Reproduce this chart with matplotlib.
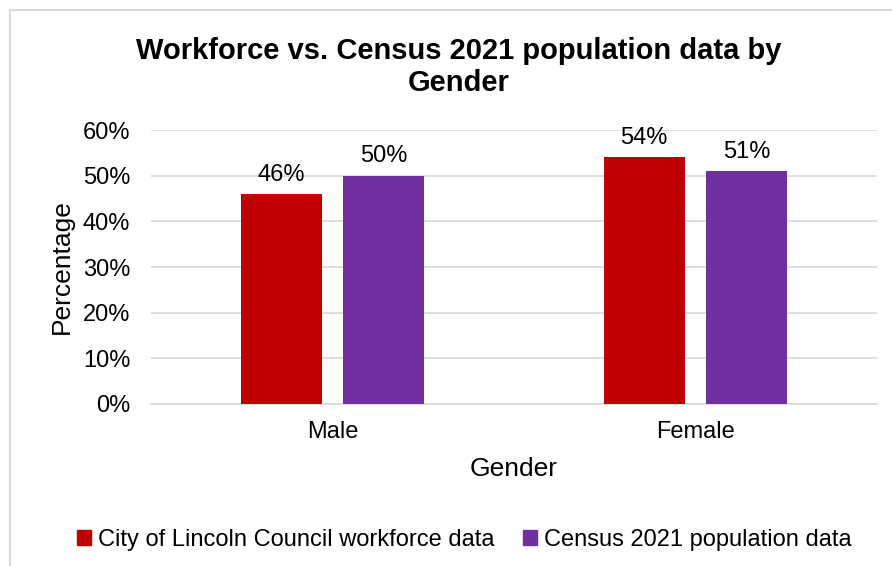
import matplotlib
matplotlib.use("Agg")
import matplotlib.pyplot as plt
from matplotlib.patches import Rectangle, Patch
import numpy as np

categories = ["Male", "Female"]
series_names = ["City of Lincoln Council workforce data", "Census 2021 population data"]
workforce = [0.46, 0.54]
census = [0.50, 0.51]
colors = ["#C00000", "#7030A0"]
yticks = [0, 0.1, 0.2, 0.3, 0.4, 0.5, 0.6]
ytick_labels = ["0%", "10%", "20%", "30%", "40%", "50%", "60%"]

plt.rcParams['font.family'] = ['Liberation Sans', 'DejaVu Sans']

W, H = 892, 566
fig = plt.figure(figsize=(W / 100, H / 100), dpi=100)

# border
fig.patches.append(Rectangle((10 / W, -0.05), 1.2, (H - 10) / H + 0.05, transform=fig.transFigure,
                             fill=False, edgecolor="#d9d9d9", linewidth=1.5))

ax = fig.add_axes([151 / W, (H - 404) / H, 726 / W, 274 / H])
x = np.arange(len(categories))
bw = 0.223
off = bw / 2 + 0.03
b1 = ax.bar(x - off, workforce, bw, color=colors[0], label=series_names[0], zorder=3)
b2 = ax.bar(x + off, census, bw, color=colors[1], label=series_names[1], zorder=3)

for bars, vals in ((b1, workforce), (b2, census)):
    for r, v in zip(bars, vals):
        ax.annotate(f"{round(v * 100)}%", (r.get_x() + r.get_width() / 2, v),
                    xytext=(0, 6), textcoords="offset points", ha="center", va="bottom",
                    fontsize=17, color="black")

ax.set_xlim(-0.5, 1.5)
ax.set_ylim(0, 0.6)
ax.set_yticks(yticks)
ax.set_yticklabels(ytick_labels)
ax.set_xticks(x)
ax.set_xticklabels(categories)
ax.tick_params(axis="y", length=0, pad=15, labelsize=17, colors="black")
ax.tick_params(axis="x", length=0, pad=12, labelsize=17, colors="black")
ax.grid(axis="y", color="#d9d9d9", linewidth=1.2, zorder=0)
for s in ["top", "right", "left"]:
    ax.spines[s].set_visible(False)
ax.spines["bottom"].set_color("#d9d9d9")
ax.spines["bottom"].set_linewidth(1.2)

ax.set_xlabel("Gender", fontsize=19, labelpad=10)
ax.set_ylabel("Percentage", fontsize=19, labelpad=6)

fig.text(459 / W, 1 - 67 / H, "Workforce vs. Census 2021 population data by\nGender",
         ha="center", va="center", fontsize=21, fontweight="bold", linespacing=1.15)

handles = [Patch(color=colors[0]), Patch(color=colors[1])]
fig.legend(handles, series_names, loc="center", bbox_to_anchor=(464 / W, 26 / H),
           ncol=2, frameon=False, fontsize=17, handlelength=0.6, handleheight=0.6,
           handletextpad=0.3, columnspacing=1.2)

fig.savefig("out.png", dpi=100)
